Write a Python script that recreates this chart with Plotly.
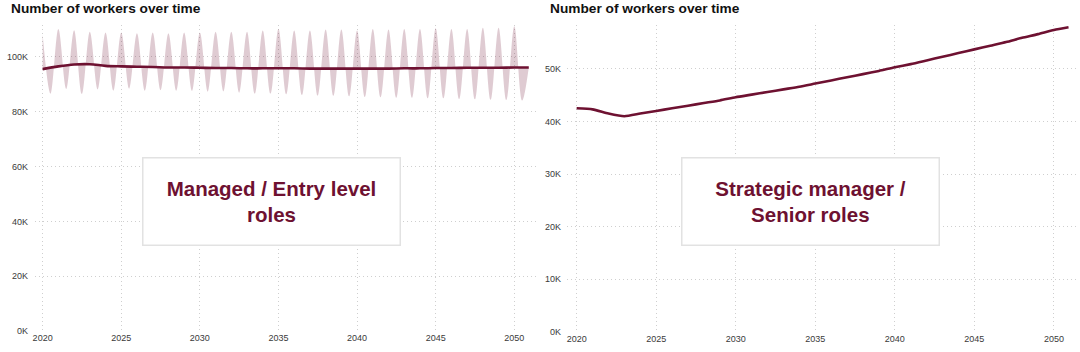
import plotly.graph_objects as go

# ---------------- data ----------------
# Left panel: Managed / Entry level roles
mean_years = list(range(2020, 2051)) + [2050.92]
entry_mean = [95.4, 96.4, 97.1, 97.2, 96.6, 96.4, 96.3, 96.2, 96.0, 96.0, 95.9,
              95.8, 95.8, 95.7, 95.7, 95.7, 95.7, 95.6, 95.6, 95.6, 95.6, 95.6,
              95.6, 95.7, 95.7, 95.8, 95.8, 95.9, 95.9, 95.9, 96.0, 96.0]

peak_years = list(range(2020, 2051))
entry_peaks = [108.0, 110.0, 109.6, 109.0, 108.7, 108.7, 108.5, 108.7, 108.5, 108.7,
               108.7, 109.0, 109.0, 109.0, 109.5, 110.0, 109.5, 109.5, 109.8, 109.8,
               109.5, 110.0, 109.8, 110.0, 110.0, 110.3, 110.0, 110.0, 110.5, 110.5, 111.0]
trough_years = [y + 0.5 for y in peak_years]
entry_troughs = [86.4, 88.2, 86.4, 88.0, 87.5, 88.3, 87.5, 87.7, 87.5, 87.4, 87.2,
                 87.3, 86.8, 86.5, 86.5, 86.3, 86.0, 85.8, 85.7, 85.5, 85.3, 85.2,
                 85.0, 85.0, 84.8, 84.8, 84.5, 84.4, 84.3, 84.2, 84.0]

# Right panel: Strategic manager / Senior roles
senior = [42.5, 42.3, 41.5, 41.0, 41.5, 42.0, 42.5, 43.0, 43.5, 44.0, 44.6,
          45.1, 45.6, 46.1, 46.6, 47.2, 47.8, 48.4, 49.0, 49.6, 50.3, 50.9,
          51.6, 52.3, 53.0, 53.7, 54.4, 55.1, 55.9, 56.6, 57.4, 57.9]

x_ticks = [2020, 2025, 2030, 2035, 2040, 2045, 2050]
x_labels = ["2020", "2025", "2030", "2035", "2040", "2045", "2050"]
left_yticks = [0, 20000, 40000, 60000, 80000, 100000]
left_ylabels = ["0K", "20K", "40K", "60K", "80K", "100K"]
right_yticks = [0, 10000, 20000, 30000, 40000, 50000]
right_ylabels = ["0K", "10K", "20K", "30K", "40K", "50K"]

title_text = "Number of workers over time"
left_label = "Managed / Entry level<br>roles"
right_label = "Strategic manager /<br>Senior roles"

# ---------------- build ----------------
MAROON = "#6e1131"
FILL = "rgba(110,17,49,0.22)"
FONT = "Liberation Sans, Arial, sans-serif"

band_x, band_y = [], []
for px, pv, tx, tv in zip(peak_years, entry_peaks, trough_years, entry_troughs):
    band_x += [px, tx]
    band_y += [pv * 1000, tv * 1000]
band_x.append(mean_years[-1])
band_y.append(entry_mean[-1] * 1000)

mean_vals = [v * 1000 for v in entry_mean]
senior_vals = [v * 1000 for v in senior]

fig = go.Figure()
fig.add_trace(go.Scatter(x=mean_years, y=mean_vals, mode="lines",
                         line=dict(color="rgba(0,0,0,0)", width=0, shape="spline"),
                         xaxis="x", yaxis="y", showlegend=False, hoverinfo="skip"))
fig.add_trace(go.Scatter(x=band_x, y=band_y, mode="lines", fill="tonexty",
                         fillcolor=FILL, line=dict(color="rgba(0,0,0,0)", width=0, shape="spline"),
                         xaxis="x", yaxis="y", showlegend=False, hoverinfo="skip"))
fig.add_trace(go.Scatter(x=mean_years, y=mean_vals, mode="lines",
                         line=dict(color=MAROON, width=2.6, shape="spline"),
                         xaxis="x", yaxis="y", showlegend=False))
fig.add_trace(go.Scatter(x=mean_years, y=senior_vals, mode="lines",
                         line=dict(color=MAROON, width=2.6, shape="spline", smoothing=0.6),
                         xaxis="x2", yaxis="y2", showlegend=False))

W, H = 1080, 352

def px_x(p):
    return p / W

def px_y(p):
    return (H - p) / H

grid = dict(showgrid=True, gridcolor="#cfcfcf", griddash="1px,3px", gridwidth=1,
            zeroline=False, showline=False, ticks="",
            tickfont=dict(family=FONT, size=9, color="#3a3a3a"))

fig.update_layout(
    width=W, height=H, margin=dict(l=0, r=0, t=0, b=0),
    paper_bgcolor="white", plot_bgcolor="white", showlegend=False,
    xaxis=dict(domain=[px_x(33), px_x(535)], range=[2019.51, 2051.38],
               tickvals=x_ticks, ticktext=x_labels, anchor="y", **grid),
    yaxis=dict(domain=[px_y(336), px_y(25)], range=[0, 111600],
               tickvals=left_yticks, ticktext=left_ylabels, anchor="x",
               ticklabelstandoff=6, **grid),
    xaxis2=dict(domain=[px_x(566), px_x(1076)], range=[2019.39, 2051.39],
                tickvals=x_ticks, ticktext=x_labels, anchor="y2", **grid),
    yaxis2=dict(domain=[px_y(336.7), px_y(25)], range=[0, 58400],
                tickvals=right_yticks, ticktext=right_ylabels, anchor="x2",
                ticklabelstandoff=5, **grid),
)

for tx in (7, 547):
    fig.add_annotation(x=px_x(tx), y=px_y(8.5), xref="paper", yref="paper",
                       xanchor="left", yanchor="middle", showarrow=False,
                       text="<b>" + title_text + "</b>",
                       font=dict(family=FONT, size=13.7, color="#111111"))

for cx, txt in ((270.5, left_label), (810.5, right_label)):
    fig.add_annotation(x=px_x(cx), y=px_y(204), xref="paper", yref="paper",
                       xanchor="center", yanchor="middle", showarrow=False,
                       text="<b>" + txt + "</b>", align="center",
                       width=250, height=80, borderpad=3,
                       bordercolor="#e2e2e2", borderwidth=1.5, bgcolor="white",
                       font=dict(family=FONT, size=20.5, color=MAROON))

fig.write_html("out.html")
